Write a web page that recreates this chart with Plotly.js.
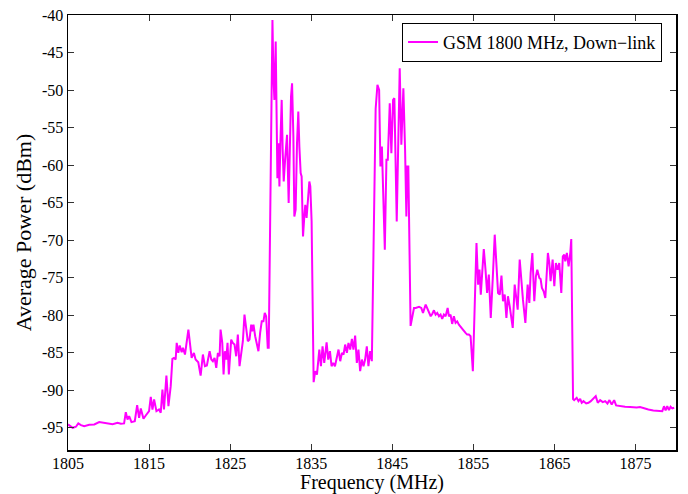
<!DOCTYPE html>
<html>
<head>
<meta charset="utf-8">
<script src="https://cdn.plot.ly/plotly-3.0.1.min.js"></script>
<style>html,body{margin:0;padding:0;background:#fff;}#chart{width:688px;height:494px;}</style>
</head>
<body>
<div id="chart"></div>
<script>
const seriesName = "GSM 1800 MHz, Down\u2212link";

const freqMHz = [
1805.0, 1805.58, 1805.98, 1806.27, 1806.6, 1807.0, 1807.62, 1808.24, 1808.85, 1809.27,
1809.88, 1810.5, 1811.11, 1811.52, 1811.92, 1812.13, 1812.34, 1812.54, 1812.83, 1813.24,
1813.53, 1813.77, 1813.98, 1814.31, 1814.59, 1815.0, 1815.21, 1815.42, 1815.62, 1815.91,
1816.23, 1816.44, 1816.65, 1816.84, 1817.14, 1817.39, 1817.67, 1817.88, 1818.07, 1818.28,
1818.41, 1818.61, 1818.78, 1819.02, 1819.18, 1819.43, 1819.85, 1820.0, 1820.25, 1820.53,
1820.74, 1821.07, 1821.36, 1821.64, 1821.89,
1822.13, 1822.47, 1822.68, 1822.87, 1823.08, 1823.29, 1823.49, 1823.7, 1823.82, 1824.03,
1824.19, 1824.35, 1824.52, 1824.68, 1824.84, 1825.13, 1825.33, 1825.54, 1825.75, 1825.95,
1826.16, 1826.36, 1826.57, 1826.77, 1826.98, 1827.18, 1827.39, 1827.6, 1827.72, 1827.88,
1828.09, 1828.28, 1828.49, 1828.7, 1828.9, 1829.11, 1829.27, 1829.44, 1829.64, 1829.76,
1830.22, 1830.34, 1830.46, 1830.62, 1830.75, 1830.83, 1830.95, 1831.08, 1831.2, 1831.36,
1831.48, 1831.61, 1831.78, 1832.02, 1832.22, 1832.34, 1832.51, 1832.64, 1832.8, 1832.92,
1833.08, 1833.25, 1833.41, 1833.54, 1833.7, 1833.82, 1833.99, 1834.15, 1834.27, 1834.43,
1834.61, 1834.77, 1834.89, 1835.05,
1835.3, 1835.5, 1835.71, 1836.0, 1836.2, 1836.4, 1836.61, 1836.9, 1837.1, 1837.31,
1837.51, 1837.72, 1837.93, 1838.13, 1838.37, 1838.58, 1838.79, 1838.99, 1839.19, 1839.4,
1839.6, 1839.81, 1840.02, 1840.21, 1840.42, 1840.63, 1840.83, 1841.04, 1841.25, 1841.45,
1841.65, 1841.86, 1842.06, 1842.27, 1842.48,
1842.95, 1843.17, 1843.38, 1843.54, 1843.72, 1843.88, 1844.08, 1844.28, 1844.45, 1844.69,
1844.89, 1845.1, 1845.26, 1845.55, 1845.75, 1845.92, 1846.12, 1846.37, 1846.58, 1846.74,
1846.86, 1846.98,
1847.26, 1847.47, 1847.68, 1847.89, 1848.3, 1848.58, 1848.79, 1849.12, 1849.32, 1849.53,
1849.74, 1849.93, 1850.14, 1850.35, 1850.55, 1850.76, 1850.96, 1851.16, 1851.37, 1851.58,
1851.83, 1851.99, 1852.19, 1852.39, 1852.6, 1852.81, 1853.01, 1853.22, 1853.43, 1853.62,
1853.83, 1854.04, 1854.24, 1854.45, 1854.66, 1854.94,
1855.39, 1855.59, 1855.76, 1855.92, 1856.08, 1856.29, 1856.5, 1856.7, 1856.91,
1857.15, 1857.4, 1857.64, 1857.85, 1858.05, 1858.26, 1858.47, 1858.66, 1858.87, 1859.08,
1859.27, 1859.49, 1859.7, 1859.86, 1860.1, 1860.27, 1860.47, 1860.72, 1860.93, 1861.12,
1861.42, 1861.7, 1861.91, 1862.07, 1862.28, 1862.52, 1862.72, 1862.89, 1863.14, 1863.3,
1863.46, 1863.67, 1863.88, 1864.2, 1864.37, 1864.53, 1864.78, 1864.99, 1865.18, 1865.39,
1865.6, 1865.85, 1866.04, 1866.22, 1866.34, 1866.54, 1866.75, 1866.96, 1867.08,
1867.3, 1867.44, 1867.75, 1867.97, 1868.18, 1868.37, 1868.59, 1868.92, 1869.2, 1869.49,
1870.1, 1870.35, 1870.64, 1870.97, 1871.26, 1871.54, 1871.79, 1872.07, 1872.37, 1872.61,
1873.1, 1873.72, 1874.33, 1874.74, 1875.15, 1875.56, 1875.97, 1876.59, 1877.2, 1878.02,
1878.31, 1878.52, 1878.72, 1878.92, 1879.13, 1879.33, 1879.54, 1879.78
];

const powerDbm = [
-94.59, -95.04, -94.90, -94.46, -94.68, -94.82, -94.64, -94.59, -94.28, -94.37,
-94.46, -94.55, -94.37, -94.50, -94.46, -92.95, -93.93, -93.49, -94.28, -94.15,
-92.02, -93.71, -92.46, -93.84, -93.40, -92.82, -90.91, -92.60, -91.27, -92.82,
-92.60, -93.04, -89.93, -92.60, -88.07, -92.16, -89.49, -85.85, -85.72, -85.94,
-83.72, -85.05, -84.07, -84.97, -84.38, -85.27, -81.94, -83.28, -85.72, -85.05,
-85.94, -86.30, -88.07, -85.27, -86.83,
-86.74, -84.83, -85.94, -86.16, -85.72, -87.05, -85.05, -85.50, -81.94, -83.72,
-87.94, -84.83, -85.94, -83.72, -87.94, -83.28, -83.72, -83.94, -85.50, -82.61,
-86.83, -85.50, -83.50, -79.95, -81.50, -83.50, -83.28, -81.28, -82.17, -81.28,
-82.83, -83.72, -84.83, -82.39, -80.84, -80.84, -79.72, -80.17, -84.38, -84.38,
-40.67, -48.21, -51.32, -43.55, -52.65, -61.75, -57.09, -62.86, -57.09, -51.32,
-57.98, -62.20, -59.31, -55.98, -65.07, -59.31, -50.88, -49.10, -56.20, -66.86,
-65.96, -57.09, -52.87, -57.54, -61.08, -61.53, -69.52, -66.86, -65.30, -67.07,
-64.19, -62.20, -62.86, -67.5,
-88.95, -87.49, -87.94, -84.61, -86.83, -84.17, -86.38, -83.64, -85.94, -84.83,
-86.83, -86.38, -86.83, -85.94, -84.61, -86.16, -85.05, -85.27, -83.94, -85.05,
-83.72, -84.61, -83.19, -84.61, -82.74, -86.38, -84.61, -87.49, -85.94, -86.83,
-85.94, -84.17, -86.83, -84.83, -86.16,
-52.5, -49.32, -49.99, -60.20, -57.54, -64.63, -71.29, -59.31, -59.31, -51.76,
-58.42, -51.32, -51.09, -67.52, -57.98, -47.10, -57.31, -49.77, -57.98, -66.86,
-60.20, -60.20,
-81.45, -79.95, -79.06, -79.06, -78.92, -79.06, -79.72, -78.62, -79.06, -79.50,
-80.17, -79.86, -79.37, -79.95, -79.72, -80.17, -79.95, -80.53, -79.95, -80.17,
-79.06, -80.17, -79.95, -81.19, -80.17, -81.05, -80.84, -81.28, -81.59, -81.94,
-82.17, -82.39, -82.61, -82.61, -82.83, -87.49,
-70.40, -75.95, -73.95, -77.28, -74.62, -71.20, -73.95, -77.06, -74.62,
-80.39, -75.06, -69.29, -73.29, -77.06, -77.28, -74.75, -78.17, -77.28, -80.39,
-77.50, -78.84, -80.39, -81.72, -75.95, -77.95, -79.28, -72.62, -76.17, -77.95,
-81.05, -75.95, -78.39, -74.40, -71.73, -78.17, -74.84, -73.95, -75.06, -75.20,
-76.39, -76.84, -77.73, -71.73, -73.06, -75.50, -72.62, -76.17, -73.06, -73.95,
-73.06, -77.06, -72.18, -71.96, -72.85, -71.73, -73.51, -71.73, -69.87,
-91.20, -91.35, -91.04, -91.49, -91.19, -91.71, -91.49, -91.80, -91.71, -91.49,
-90.82, -91.71, -91.35, -91.62, -91.49, -91.80, -91.35, -91.93, -91.35, -92.06,
-92.16, -92.24, -92.28, -92.33, -92.33, -92.28, -92.42, -92.60, -92.73, -92.82,
-92.82, -92.16, -92.73, -92.16, -92.69, -92.24, -92.46, -92.37
];

const xTickVals = [1805, 1815, 1825, 1835, 1845, 1855, 1865, 1875];
const yTickVals = [-95, -90, -85, -80, -75, -70, -65, -60, -55, -50, -45, -40];
const yTickText = ["-95", "-90", "-85", "-80", "-75", "-70", "-65", "-60", "-55", "-50", "-45", "-40"];

const serif = '"Liberation Serif", "Times New Roman", Times, serif';

const trace = {
  x: freqMHz,
  y: powerDbm,
  type: 'scatter',
  mode: 'lines',
  name: seriesName,
  line: {color: '#ff00ff', width: 2}
};

const axisCommon = {
  showgrid: false,
  zeroline: false,
  showline: true,
  linecolor: '#000',
  linewidth: 1.5,
  mirror: 'ticks',
  ticks: 'inside',
  ticklen: 6,
  tickwidth: 1,
  tickcolor: '#333',
  automargin: false,
  tickfont: {family: serif, size: 16, color: '#000'}
};

const layout = {
  width: 688,
  height: 494,
  margin: {l: 68, r: 12, t: 15, b: 44},
  paper_bgcolor: '#fff',
  plot_bgcolor: '#fff',
  font: {family: serif, color: '#000'},
  showlegend: true,
  legend: {
    x: 0.977, xanchor: 'right', y: 0.982, yanchor: 'top',
    bgcolor: '#fff', bordercolor: '#000', borderwidth: 1,
    font: {family: serif, size: 18, color: '#000'}
  },
  xaxis: Object.assign({}, axisCommon, {
    range: [1805, 1880],
    tickvals: xTickVals,
    ticktext: xTickVals.map(String),
    ticklabelstandoff: -2,
    title: {text: 'Frequency (MHz)', font: {family: serif, size: 20, color: '#000'}, standoff: 3}
  }),
  yaxis: Object.assign({}, axisCommon, {
    range: [-98, -40],
    tickvals: yTickVals,
    ticktext: yTickText,
    title: {text: 'Average Power (dBm)', font: {family: serif, size: 22, color: '#000'}, standoff: 4}
  })
};

Plotly.newPlot('chart', [trace], layout, {displayModeBar: false, staticPlot: true});
</script>
</body>
</html>
